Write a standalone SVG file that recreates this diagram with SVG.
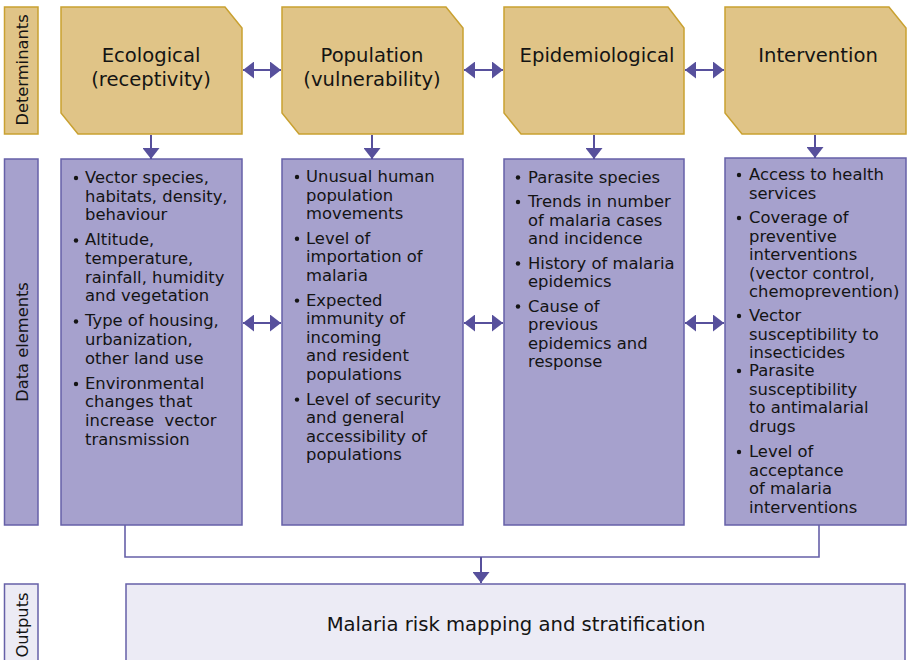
<svg xmlns="http://www.w3.org/2000/svg" width="908" height="660" viewBox="0 0 908 660">
<style>
.gold{fill:#e0c487;stroke:#c9a131;stroke-width:1.5}
.pur{fill:#a6a1cd;stroke:#6660a8;stroke-width:1.5}
.lt{fill:#ecebf5;stroke:#6660a8;stroke-width:1.5}
.hd{font-family:"DejaVu Sans",sans-serif;font-size:19.6px;fill:#141414;text-anchor:middle}
.lb{font-family:"DejaVu Sans",sans-serif;font-size:16.3px;fill:#141414;text-anchor:middle}
.tx{font-family:"DejaVu Sans",sans-serif;font-size:16.4px;fill:#141414;white-space:pre}
.bl{fill:#141414}
.ln{stroke:#57509c;stroke-width:2;fill:none}
.cn{stroke:#6660a8;stroke-width:1.6;fill:none}
</style>
<defs>
<marker id="ah" viewBox="0 0 11 17" refX="11" refY="8.5" markerWidth="11" markerHeight="17" markerUnits="userSpaceOnUse" orient="auto-start-reverse">
<path d="M0,0 L11,8.5 L0,17 Z" fill="#57509c"/>
</marker>
</defs>

<g id="label-determinants"><rect class="gold" x="4.5" y="7" width="33.5" height="127"/><text class="lb" transform="translate(27.5,70) rotate(-90)">Determinants</text></g>
<g id="label-data"><rect class="pur" x="4.5" y="159" width="33.5" height="366"/><text class="lb" transform="translate(27.5,342) rotate(-90)">Data elements</text></g>
<g id="label-outputs"><rect class="lt" x="4.5" y="584" width="33.5" height="80"/><text class="lb" transform="translate(27.5,625) rotate(-90)">Outputs</text></g>

<g id="det-ecological"><path class="gold" d="M61,7 H225 L242,28 V134 H78 L61,113 Z"/><text class="hd" x="151" y="62">Ecological</text><text class="hd" x="151" y="86">(receptivity)</text></g>
<g id="det-population"><path class="gold" d="M282,7 H446 L463,28 V134 H299 L282,113 Z"/><text class="hd" x="372" y="62">Population</text><text class="hd" x="372" y="86">(vulnerability)</text></g>
<g id="det-epidemiological"><path class="gold" d="M504,7 H668 L684,28 V134 H521 L504,113 Z"/><text class="hd" x="597" y="62">Epidemiological</text></g>
<g id="det-intervention"><path class="gold" d="M725,7 H889 L906,28 V134 H742 L725,113 Z"/><text class="hd" x="818" y="62">Intervention</text></g>

<g id="data-ecological"><rect class="pur" x="61" y="159" width="181" height="366"/>
<circle class="bl" cx="76" cy="178" r="2.2"/><circle class="bl" cx="76" cy="240.5" r="2.2"/><circle class="bl" cx="76" cy="321.5" r="2.2"/><circle class="bl" cx="76" cy="384" r="2.2"/>
<text class="tx"><tspan x="85" y="183">Vector species,</tspan><tspan x="85" y="201.7">habitats, density,</tspan><tspan x="85" y="220.4">behaviour</tspan><tspan x="85" y="245.4">Altitude,</tspan><tspan x="85" y="264">temperature,</tspan><tspan x="85" y="282.7">rainfall, humidity</tspan><tspan x="85" y="301.4">and vegetation</tspan><tspan x="85" y="326.4">Type of housing,</tspan><tspan x="85" y="345">urbanization,</tspan><tspan x="85" y="363.7">other land use</tspan><tspan x="85" y="388.7">Environmental</tspan><tspan x="85" y="407.3">changes that</tspan><tspan x="85" y="426">increase  vector</tspan><tspan x="85" y="444.7">transmission</tspan></text></g>

<g id="data-population"><rect class="pur" x="282" y="159" width="181" height="366"/>
<circle class="bl" cx="297" cy="177" r="2.2"/><circle class="bl" cx="297" cy="238.8" r="2.2"/><circle class="bl" cx="297" cy="300.6" r="2.2"/><circle class="bl" cx="297" cy="399.6" r="2.2"/>
<text class="tx"><tspan x="306" y="182">Unusual human</tspan><tspan x="306" y="200.6">population</tspan><tspan x="306" y="219.2">movements</tspan><tspan x="306" y="243.8">Level of</tspan><tspan x="306" y="262.4">importation of</tspan><tspan x="306" y="281">malaria</tspan><tspan x="306" y="305.6">Expected</tspan><tspan x="306" y="324.2">immunity of</tspan><tspan x="306" y="342.8">incoming</tspan><tspan x="306" y="361.4">and resident</tspan><tspan x="306" y="380">populations</tspan><tspan x="306" y="404.6">Level of security</tspan><tspan x="306" y="423.2">and general</tspan><tspan x="306" y="441.8">accessibility of</tspan><tspan x="306" y="460.4">populations</tspan></text></g>

<g id="data-epidemiological"><rect class="pur" x="504" y="159" width="180" height="366"/>
<circle class="bl" cx="518" cy="177.5" r="2.2"/><circle class="bl" cx="518" cy="202" r="2.2"/><circle class="bl" cx="518" cy="263.5" r="2.2"/><circle class="bl" cx="518" cy="306.5" r="2.2"/>
<text class="tx"><tspan x="528" y="182.5">Parasite species</tspan><tspan x="528" y="207">Trends in number</tspan><tspan x="528" y="225.5">of malaria cases</tspan><tspan x="528" y="244">and incidence</tspan><tspan x="528" y="268.5">History of malaria</tspan><tspan x="528" y="287">epidemics</tspan><tspan x="528" y="311.5">Cause of</tspan><tspan x="528" y="330">previous</tspan><tspan x="528" y="348.5">epidemics and</tspan><tspan x="528" y="367">response</tspan></text></g>

<g id="data-intervention"><rect class="pur" x="725" y="158" width="181" height="367"/>
<circle class="bl" cx="739" cy="175" r="2.2"/><circle class="bl" cx="739" cy="218" r="2.2"/><circle class="bl" cx="739" cy="316" r="2.2"/><circle class="bl" cx="739" cy="371" r="2.2"/><circle class="bl" cx="739" cy="452" r="2.2"/>
<text class="tx"><tspan x="749" y="180">Access to health</tspan><tspan x="749" y="198.5">services</tspan><tspan x="749" y="223">Coverage of</tspan><tspan x="749" y="241.5">preventive</tspan><tspan x="749" y="260">interventions</tspan><tspan x="749" y="278.5">(vector control,</tspan><tspan x="749" y="297">chemoprevention)</tspan><tspan x="749" y="321">Vector</tspan><tspan x="749" y="339.5">susceptibility to</tspan><tspan x="749" y="358">insecticides</tspan><tspan x="749" y="376">Parasite</tspan><tspan x="749" y="394.5">susceptibility</tspan><tspan x="749" y="413">to antimalarial</tspan><tspan x="749" y="431.5">drugs</tspan><tspan x="749" y="457">Level of</tspan><tspan x="749" y="475.5">acceptance</tspan><tspan x="749" y="494">of malaria</tspan><tspan x="749" y="512.5">interventions</tspan></text></g>

<g id="output"><rect class="lt" x="126" y="584" width="779" height="84"/><text class="hd" x="516" y="631">Malaria risk mapping and stratification</text></g>

<g id="connectors">
<line class="ln" x1="243" y1="70" x2="281" y2="70" marker-start="url(#ah)" marker-end="url(#ah)"/>
<line class="ln" x1="464" y1="70" x2="503" y2="70" marker-start="url(#ah)" marker-end="url(#ah)"/>
<line class="ln" x1="685" y1="70" x2="724" y2="70" marker-start="url(#ah)" marker-end="url(#ah)"/>
<line class="ln" x1="243" y1="323" x2="281" y2="323" marker-start="url(#ah)" marker-end="url(#ah)"/>
<line class="ln" x1="464" y1="323" x2="503" y2="323" marker-start="url(#ah)" marker-end="url(#ah)"/>
<line class="ln" x1="685" y1="323" x2="724" y2="323" marker-start="url(#ah)" marker-end="url(#ah)"/>
<line class="ln" x1="151" y1="135" x2="151" y2="159" marker-end="url(#ah)"/>
<line class="ln" x1="372" y1="135" x2="372" y2="159" marker-end="url(#ah)"/>
<line class="ln" x1="594" y1="135" x2="594" y2="159" marker-end="url(#ah)"/>
<line class="ln" x1="815" y1="135" x2="815" y2="158" marker-end="url(#ah)"/>
<polyline class="cn" points="125,525 125,557 819,557 819,525"/>
<line class="ln" x1="481" y1="557" x2="481" y2="583" marker-end="url(#ah)"/>
</g>
</svg>
